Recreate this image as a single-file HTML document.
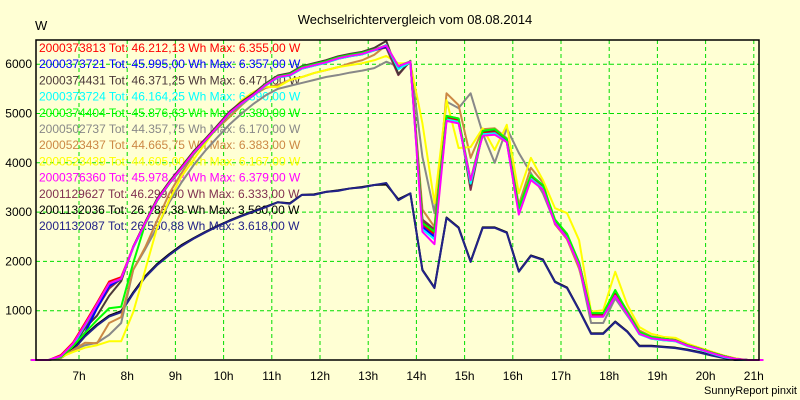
<!DOCTYPE html>
<html><head><meta charset="utf-8">
<style>
html,body{margin:0;padding:0;background:#ffffd4;}
svg{display:block;font-family:"Liberation Sans",Arial,sans-serif;}
</style></head>
<body>
<svg id="chart" width="800" height="400" viewBox="0 0 800 400" xmlns="http://www.w3.org/2000/svg">
<rect x="0" y="0" width="800" height="400" fill="#ffffd4"/>
<text x="415" y="24" font-size="13" text-anchor="middle" fill="#000">Wechselrichtervergleich vom 08.08.2014</text>
<text x="35" y="30" font-size="13" fill="#000">W</text>
<text x="797" y="394" font-size="11" text-anchor="end" fill="#000">SunnyReport pinxit</text>
<g id="grid"></g>
<g id="legend"></g>
<g id="series"></g>
<rect x="36" y="40" width="723" height="320" fill="none" stroke="#000" stroke-width="1.5"/>
<g id="axes"></g>
</svg>
<script>
const times = [6.125,6.375,6.625,6.875,7.125,7.375,7.625,7.875,8.125,8.375,8.625,8.875,9.125,9.375,9.625,9.875,10.125,10.375,10.625,10.875,11.125,11.375,11.625,11.875,12.125,12.375,12.625,12.875,13.125,13.375,13.625,13.875,14.125,14.375,14.625,14.875,15.125,15.375,15.625,15.875,16.125,16.375,16.625,16.875,17.125,17.375,17.625,17.875,18.125,18.375,18.625,18.875,19.125,19.375,19.625,19.875,20.125,20.375,20.625,20.875];
const xTicks = [7,8,9,10,11,12,13,14,15,16,17,18,19,20,21];
const yTicks = [1000,2000,3000,4000,5000,6000];
const seriesNames = ["2000373813","2000373721","2000374431","2000373724","2000374404","2000502737","2000523437","2000523439","2000376360","2001129627","2001132036","2001132087"];
const seriesLabels = ["Tot: 46.212,13 Wh Max: 6.355,00 W","Tot: 45.995,00 Wh Max: 6.357,00 W","Tot: 46.371,25 Wh Max: 6.471,00 W","Tot: 46.164,25 Wh Max: 6.390,00 W","Tot: 45.876,63 Wh Max: 6.380,00 W","Tot: 44.357,75 Wh Max: 6.170,00 W","Tot: 44.665,75 Wh Max: 6.383,00 W","Tot: 44.605,00 Wh Max: 6.167,00 W","Tot: 45.978,13 Wh Max: 6.379,00 W","Tot: 46.299,00 Wh Max: 6.333,00 W","Tot: 26.183,38 Wh Max: 3.560,00 W","Tot: 26.550,88 Wh Max: 3.618,00 W"];
const s2000373813 = [0,0,100,350,750,1160,1590,1680,2290,2780,3250,3590,3890,4200,4460,4730,5010,5210,5380,5580,5740,5780,5920,5980,6040,6120,6170,6210,6290,6355,5950,6050,2750,2550,4900,4850,3600,4600,4620,4450,3050,3700,3500,2800,2500,1950,900,900,1320,950,550,450,420,400,300,230,150,80,20,0];
const s2000373721 = [0,0,80,300,550,1050,1500,1650,2280,2770,3240,3580,3880,4190,4450,4720,5000,5200,5370,5570,5730,5770,5910,5970,6030,6110,6160,6200,6280,6357,5940,6040,2700,2500,4880,4820,3620,4580,4600,4430,3000,3680,3480,2780,2480,1930,880,880,1300,930,540,440,410,390,290,220,140,70,20,0];
const s2000374431 = [0,0,60,280,650,900,1300,1600,2300,2800,3280,3620,3920,4230,4490,4760,5040,5240,5410,5610,5770,5820,5960,6020,6080,6160,6210,6250,6330,6471,5800,6060,2800,2600,4920,4880,3550,4620,4650,4470,3050,3720,3520,2820,2520,1970,920,920,1330,960,560,460,430,400,300,230,150,80,20,0];
const s2000373724 = [0,0,60,300,700,1130,1550,1650,2280,2770,3240,3580,3880,4190,4450,4720,5000,5200,5370,5570,5730,5770,5910,5970,6030,6110,6160,6200,6280,6390,5900,6040,2650,2450,4880,4830,3580,4580,4600,4420,3000,3680,3480,2780,2480,1920,880,880,1300,920,520,430,400,380,280,210,130,60,10,0];
const s2000374404 = [0,0,60,280,550,810,1050,1080,1970,2760,3240,3580,3880,4190,4450,4720,5000,5210,5380,5590,5750,5800,5940,6000,6060,6140,6190,6230,6300,6380,5960,6060,2780,2600,4950,4900,3650,4650,4680,4480,3080,3750,3550,2850,2560,1980,950,950,1420,980,570,470,430,400,300,230,150,80,20,0];
const s2000502737 = [0,0,40,200,300,350,510,750,1830,2250,2700,3200,3600,3950,4250,4520,4780,5000,5200,5370,5500,5560,5620,5680,5740,5780,5830,5870,5920,6050,5950,6050,4120,2980,5240,5110,5410,4600,4000,4700,4200,3790,3380,2780,2450,1900,750,750,1250,900,550,430,400,380,290,220,140,70,20,0];
const s2000523437 = [0,0,40,200,350,340,750,870,1830,2290,2840,3380,3790,4160,4460,4700,4930,5170,5380,5520,5580,5680,5740,5820,5880,5940,6020,6080,6190,6383,5950,6050,3050,2700,5410,5170,4100,4680,4700,4500,3150,3900,3600,2750,2450,1850,950,950,1380,1000,600,480,440,410,310,240,160,90,30,0];
const s2000523439 = [0,0,60,160,250,300,380,380,970,1830,2700,3250,3720,4060,4400,4730,5010,5270,5440,5540,5540,5680,5740,5820,5880,5940,5980,6020,6080,6167,6020,6020,4800,3180,5270,4300,4320,4700,4260,4770,3380,4100,3650,3080,2980,2430,980,1010,1790,1120,670,530,470,450,330,250,170,90,30,0];
const s2000376360 = [0,0,80,330,720,1130,1550,1650,2290,2780,3250,3590,3890,4200,4460,4730,5010,5210,5380,5580,5740,5780,5920,5980,6040,6120,6170,6210,6290,6379,5960,6050,2600,2350,4850,4800,3650,4550,4570,4420,2950,3650,3460,2770,2470,1920,880,880,1300,930,530,440,410,390,290,220,140,70,20,0];
const s2001129627 = [0,0,70,300,650,1050,1450,1650,2290,2790,3260,3600,3900,4210,4470,4740,5020,5230,5400,5600,5760,5800,5940,6000,6060,6140,6190,6230,6300,6333,5780,6070,2850,2650,4950,4900,3450,4620,4640,4470,3080,3720,3520,2820,2520,1980,920,920,1340,960,560,460,430,400,300,230,150,80,20,0];
const s2001132036 = [0,0,50,220,500,720,900,990,1370,1700,1950,2150,2330,2470,2600,2720,2830,2930,3020,3110,3200,3180,3350,3360,3410,3440,3480,3510,3550,3560,3260,3380,1830,1470,2890,2690,2000,2690,2690,2590,1800,2120,2040,1590,1470,1020,540,540,780,580,290,290,270,250,210,160,100,50,0,0];
const s2001132087 = [0,0,50,200,480,700,880,970,1350,1680,1930,2130,2310,2460,2590,2710,2820,2920,3010,3100,3200,3170,3350,3350,3410,3430,3480,3500,3550,3590,3240,3380,1820,1460,2880,2680,1990,2680,2680,2580,1790,2110,2030,1580,1460,1010,530,530,770,570,280,280,260,240,200,150,90,40,0,0];
const seriesData = [s2000373813,s2000373721,s2000374431,s2000373724,s2000374404,s2000502737,s2000523437,s2000523439,s2000376360,s2001129627,s2001132036,s2001132087];
const seriesColors = ["#ff0000","#0000ff","#4a3838","#00ffff","#00ff00","#888888","#cc8844","#ffff00","#ff00ff","#803050","#000000","#222288"];

const NS = "http://www.w3.org/2000/svg";
const X0 = 79, XPH = 48.2, Y0 = 360, YPW = 0.0493;
function xScale(h){ return X0 + (h - 7) * XPH; }
function yScale(v){ return Y0 - v * YPW; }
function mk(tag, attrs){ const e = document.createElementNS(NS, tag); for (const k in attrs) e.setAttribute(k, attrs[k]); return e; }

const grid = document.getElementById('grid');
const axes = document.getElementById('axes');
xTicks.forEach(h => {
  const x = xScale(h);
  const l = mk('line', {x1:x, y1:40, x2:x, y2:360, stroke:'#00dd00', 'stroke-width':1, 'stroke-dasharray':'4,3'});
  
  
  grid.appendChild(l);
  const t = mk('text', {x:x, y:380, 'font-size':12, 'text-anchor':'middle', fill:'#000'});
  t.textContent = h + 'h';
  
  
  axes.appendChild(t);
});
yTicks.forEach(v => {
  const y = yScale(v);
  const l = mk('line', {x1:36, y1:y, x2:759, y2:y, stroke:'#00dd00', 'stroke-width':1, 'stroke-dasharray':'4,3'});
  
  
  grid.appendChild(l);
  const t = mk('text', {x:32, y:y + 4, 'font-size':12, 'text-anchor':'end', fill:'#000'});
  t.textContent = v;
  
  
  axes.appendChild(t);
});

const legend = document.getElementById('legend');
seriesNames.forEach((n, i) => {
  const t = mk('text', {x:39, y:52 + i * 16.2, 'font-size':12, fill:seriesColors[i]});
  t.textContent = n + ' ' + seriesLabels[i];
  
  
  legend.appendChild(t);
});

const sg = document.getElementById('series');
const order = [10,11,5,6,7,9,2,0,1,3,4,8];
order.forEach(i => {
  const d = seriesData[i];
  const pts = [xScale(6.0) + ',' + yScale(0)].concat(d.map((v, j) => xScale(times[j]) + ',' + yScale(v)));
  pts.push(xScale(21.2) + ',' + yScale(0));
  const p = mk('polyline', {points:pts.join(' '), fill:'none', stroke:seriesColors[i], 'stroke-width':2, 'stroke-linejoin':'round'});
  
  
  sg.appendChild(p);
});
</script>
</body></html>
